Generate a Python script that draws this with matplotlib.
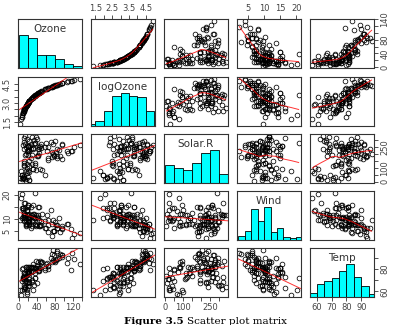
import numpy as np
import matplotlib
matplotlib.use("Agg")
import matplotlib.pyplot as plt

NA = np.nan
# airquality data (NA = missing)
ozone = [41, 36, 12, 18, NA, 28, 23, 19, 8, NA,
         7, 16, 11, 14, 18, 14, 34, 6, 30, 11,
         1, 11, 4, 32, NA, NA, NA, 23, 45, 115,
         37, NA, NA, NA, NA, NA, NA, 29, NA, 71,
         39, NA, NA, 23, NA, NA, 21, 37, 20, 12,
         13, NA, NA, NA, NA, NA, NA, NA, NA, NA,
         NA, 135, 49, 32, NA, 64, 40, 77, 97, 97,
         85, NA, 10, 27, NA, 7, 48, 35, 61, 79,
         63, 16, NA, NA, 80, 108, 20, 52, 82, 50,
         64, 59, 39, 9, 16, 78, 35, 66, 122, 89,
         110, NA, NA, 44, 28, 65, NA, 22, 59, 23,
         31, 44, 21, 9, NA, 45, 168, 73, NA, 76,
         118, 84, 85, 96, 78, 73, 91, 47, 32, 20,
         23, 21, 24, 44, 21, 28, 9, 13, 46, 18,
         13, 24, 16, 13, 23, 36, 7, 14, 30, NA,
         14, 18, 20]
solar_r = [190, 118, 149, 313, NA, NA, 299, 99, 19, 194,
           NA, 256, 290, 274, 65, 334, 307, 78, 322, 44,
           8, 320, 25, 92, 66, 266, NA, 13, 252, 223,
           279, 286, 287, 242, 186, 220, 264, 127, 273, 291,
           323, 259, 250, 148, 332, 322, 191, 284, 37, 120,
           137, 150, 59, 91, 250, 135, 127, 47, 98, 31,
           138, 269, 248, 236, 101, 175, 314, 276, 267, 272,
           175, 139, 264, 175, 291, 48, 260, 274, 285, 187,
           220, 7, 258, 295, 294, 223, 81, 82, 213, 275,
           253, 254, 83, 24, 77, NA, NA, NA, 255, 229,
           207, 222, 137, 192, 273, 157, 64, 71, 51, 115,
           244, 190, 259, 36, 255, 212, 238, 215, 153, 203,
           225, 237, 188, 167, 197, 183, 189, 95, 92, 252,
           220, 230, 259, 236, 259, 238, 24, 112, 237, 224,
           27, 238, 201, 238, 14, 139, 49, 20, 193, 145,
           191, 131, 223]
wind = [7.4, 8.0, 12.6, 11.5, 14.3, 14.9, 8.6, 13.8, 20.1, 8.6,
        6.9, 9.7, 9.2, 10.9, 13.2, 11.5, 12.0, 18.4, 11.5, 9.7,
        9.7, 16.6, 9.7, 12.0, 16.6, 14.9, 8.0, 12.0, 14.9, 5.7,
        7.4, 8.6, 9.7, 16.1, 9.2, 8.6, 14.3, 9.7, 6.9, 13.8,
        11.5, 10.9, 9.2, 8.0, 13.8, 11.5, 14.9, 20.7, 9.2, 11.5,
        10.3, 6.3, 1.7, 4.6, 6.3, 8.0, 8.0, 10.3, 11.5, 14.9,
        8.0, 4.1, 9.2, 9.2, 10.9, 4.6, 10.9, 5.1, 6.3, 5.7,
        7.4, 8.6, 14.3, 14.9, 14.9, 14.3, 6.9, 10.3, 6.3, 5.1,
        11.5, 6.9, 9.7, 11.5, 8.6, 8.0, 8.6, 12.0, 7.4, 7.4,
        7.4, 9.2, 6.9, 13.8, 7.4, 6.9, 7.4, 4.6, 4.0, 10.3,
        8.0, 8.6, 11.5, 11.5, 11.5, 9.7, 11.5, 10.3, 6.3, 7.4,
        10.9, 10.3, 15.5, 14.3, 12.6, 9.7, 3.4, 8.0, 5.7, 9.7,
        2.3, 6.3, 6.3, 6.9, 5.1, 2.8, 4.6, 7.4, 15.5, 10.9,
        10.3, 10.9, 9.7, 14.9, 15.5, 6.3, 10.9, 11.5, 6.9, 13.8,
        10.3, 10.3, 8.0, 12.6, 9.2, 10.3, 10.3, 16.6, 6.9, 13.2,
        14.3, 8.0, 11.5]
temp = [67, 72, 74, 62, 56, 66, 65, 59, 61, 69,
        74, 69, 66, 68, 58, 64, 66, 57, 68, 62,
        59, 73, 61, 61, 57, 58, 57, 67, 81, 79,
        76, 78, 74, 67, 84, 85, 79, 82, 87, 90,
        87, 93, 92, 82, 80, 79, 77, 72, 65, 73,
        76, 77, 76, 76, 76, 75, 78, 73, 80, 77,
        83, 84, 85, 81, 84, 83, 83, 88, 92, 92,
        89, 82, 73, 81, 91, 80, 81, 82, 84, 87,
        85, 74, 81, 82, 86, 85, 82, 86, 88, 86,
        83, 81, 81, 81, 82, 86, 85, 87, 89, 90,
        90, 92, 86, 86, 82, 80, 79, 77, 79, 76,
        78, 78, 77, 72, 75, 79, 81, 86, 88, 97,
        94, 96, 94, 91, 92, 93, 93, 87, 84, 80,
        78, 75, 73, 81, 76, 77, 71, 71, 78, 67,
        76, 68, 82, 64, 71, 81, 69, 63, 70, 77,
        75, 76, 68]

names = ["Ozone", "logOzone", "Solar.R", "Wind", "Temp"]
hist_bins = [np.arange(0, 141, 20), np.arange(1.0, 5.01, 0.5),
             np.arange(0, 351, 50), np.arange(0, 23, 2), np.arange(55, 101, 5)]

# axis ticks / labels drawn at the outer edges
tick_pos = [np.arange(0, 141, 20), np.arange(1.5, 4.51, 0.5),
            np.arange(0, 301, 50), np.arange(5, 21, 5), np.arange(60, 91, 10)]
x_labels = [["0", "", "40", "", "80", "", "120", ""],
            ["1.5", "", "2.5", "", "3.5", "", "4.5"],
            ["0", "", "100", "", "", "250", ""],
            ["5", "10", "15", "20"],
            ["60", "70", "80", "90"]]
y_labels = [["0", "", "40", "", "80", "", "", "140"],
            ["1.5", "", "", "3.0", "", "", "4.5"],
            ["0", "", "100", "", "", "250", ""],
            ["5", "10", "", "20"],
            ["60", "", "80", ""]]

oz = np.array(ozone, float)
sr = np.array(solar_r, float)
wd = np.array(wind, float)
tp = np.array(temp, float)
keep = ~np.isnan(oz) & ~np.isnan(sr) & (oz > 1) & (oz < 160)
cols = [oz[keep], np.log(oz[keep]), sr[keep], wd[keep], tp[keep]]


def lowess(x, y, f=2/3, iters=3):
    o = np.argsort(x)
    x = x[o]
    y = y[o]
    n = len(x)
    r = max(int(round(f * n)), 2)
    rob = np.ones(n)
    fit = np.zeros(n)
    for it in range(iters + 1):
        for i in range(n):
            d = np.abs(x - x[i])
            h = np.sort(d)[r - 1]
            u = np.clip(d / max(h, 1e-9), 0, 1)
            w = (1 - u ** 3) ** 3 * rob
            sw = w.sum()
            xm = (w * x).sum() / sw
            ym = (w * y).sum() / sw
            b = (w * (x - xm) ** 2).sum()
            slope = (w * (x - xm) * (y - ym)).sum() / b if b > 1e-12 else 0
            fit[i] = ym + slope * (x[i] - xm)
        res = y - fit
        s = np.median(np.abs(res))
        if s == 0:
            break
        u = np.clip(res / (6 * s), -1, 1)
        rob = (1 - u ** 2) ** 2
    return x, fit


W, H = 394, 325
fig = plt.figure(figsize=(W / 100, H / 100), dpi=100)
lefts = [18, 91, 164, 237, 310]
tops = [19, 77, 134, 191, 248]
pw, ph = 64, 48.5

lims = []
for c in cols:
    lo, hi = c.min(), c.max()
    pad = 0.04 * (hi - lo)
    lims.append((lo - pad, hi + pad))

for i in range(5):
    for j in range(5):
        ax = fig.add_axes([lefts[j] / W, 1 - (tops[i] + ph) / H, pw / W, ph / H])
        for s in ax.spines.values():
            s.set_color("#333333")
            s.set_linewidth(0.8)
        if i == j:
            # R hist: right-closed bins
            counts, edges = np.histogram(cols[i], bins=hist_bins[i] + 1e-9)
            edges = hist_bins[i]
            ax.bar(edges[:-1], counts / counts.max(), width=np.diff(edges), align="edge",
                   color="cyan", edgecolor="black", linewidth=0.6)
            ylim = (0, 1.5)
            ax.text(0.5, 0.8, names[i], transform=ax.transAxes, ha="center", va="center",
                    fontsize=7.5, color="#333333")
            ypos = (tick_pos[i] - lims[i][0]) / (lims[i][1] - lims[i][0]) * 1.5
        else:
            x, y = cols[j], cols[i]
            ylim = lims[i]
            ypos = tick_pos[i]
            ax.plot(x, y, "o", mfc="none", mec="black", ms=3.4, mew=0.55)
            if i < j:
                sx, sy = lowess(x, y)
                ax.plot(sx, sy, color="red", lw=0.7, alpha=0.8)
            else:
                b, a = np.polyfit(x, y, 1)
                xx = np.array(lims[j])
                ax.plot(xx, a + b * xx, color="red", lw=0.7, alpha=0.8)
        ax.set_xticks([])
        ax.set_yticks([])
        # outer axes like R pairs()
        ax.tick_params(length=3, width=0.6, color="#333333", labelsize=6,
                       labelcolor="#444444", pad=1.5)
        if i == 0 and j % 2 == 1:
            ax.set_xticks(tick_pos[j])
            ax.set_xticklabels(x_labels[j])
            ax.xaxis.tick_top()
        if i == 4 and j % 2 == 0:
            ax.set_xticks(tick_pos[j])
            ax.set_xticklabels(x_labels[j])
        if j == 0 and i % 2 == 1:
            ax.set_yticks(ypos)
            ax.set_yticklabels(y_labels[i], rotation=90, va="center")
        if j == 4 and i % 2 == 0:
            ax.set_yticks(ypos)
            ax.set_yticklabels(y_labels[i], rotation=90, va="center")
            ax.yaxis.tick_right()
        ax.set_xlim(lims[j])
        ax.set_ylim(ylim)

fig.text(184 / W, 1 - 321 / H, "Figure 3.5", ha="right", va="center",
         family="DejaVu Serif", weight="bold", fontsize=7.5)
fig.text(187 / W, 1 - 321 / H, "Scatter plot matrix", ha="left", va="center",
         family="DejaVu Serif", fontsize=7.5)

fig.savefig("out.png", dpi=100)
